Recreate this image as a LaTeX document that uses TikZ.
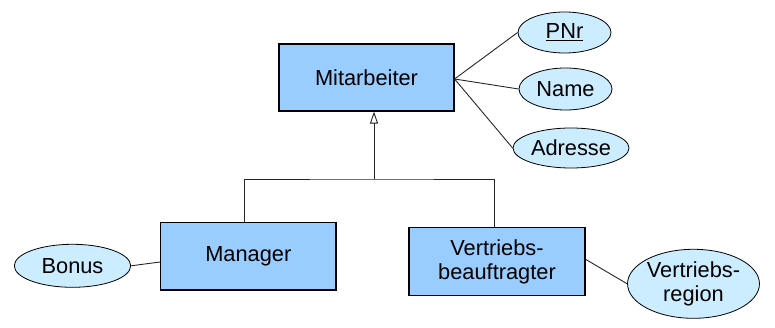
\documentclass[tikz,border=0pt]{standalone}
\usepackage{fontspec}
\setmainfont{Liberation Sans}
\usetikzlibrary{shapes.geometric,arrows.meta}
\definecolor{boxblue}{HTML}{99CCFF}
\definecolor{ellblue}{HTML}{CCECFF}
\begin{document}
\begin{tikzpicture}[x=1pt,y=-1pt,
  every node/.style={font=\fontsize{21.8}{24.5}\selectfont, text=black},
  entity/.style={draw=black, line width=1.1pt, fill=boxblue, inner sep=0pt, align=center},
  attr/.style={ellipse, draw=black, line width=0.8pt, fill=ellblue, inner sep=0pt, align=center},
  conn/.style={draw=black!85, line width=0.9pt}]
\useasboundingbox (0,0) rectangle (775,328);
% entities
\node[entity, minimum width=175pt, minimum height=67pt] (M) at (366.5,77.5) {Mitarbeiter};
\node[entity, minimum width=175.3pt, minimum height=67.3pt] (Man) at (248.3,256.3) {Manager};
\node[entity, minimum width=176pt, minimum height=67.7pt] (VB) at (497,261.8) {Vertriebs-\\beauftragter};
% attributes
\node[attr, minimum width=93pt, minimum height=41pt] (PNr) at (564.5,32.5) {\underline{PNr}};
\node[attr, minimum width=93pt, minimum height=42pt] (Name) at (565.5,89) {Name};
\node[attr, minimum width=116pt, minimum height=40pt] (Adr) at (571,148) {Adresse};
\node[attr, minimum width=116.4pt, minimum height=43pt] (Bonus) at (72.5,265.8) {Bonus};
\node[attr, minimum width=131.6pt, minimum height=69pt] (VR) at (693.5,283.8) {Vertriebs-\\region};
% attribute connectors
\coordinate (Mr) at ([yshift=-1.5pt]M.east);
\draw[conn] (Mr) -- (PNr.west);
\draw[conn] (Mr) -- (Name.west);
\draw[conn] (Mr) -- (Adr.west);
\draw[conn] (Bonus.east) -- ([yshift=-5.7pt]Man.west);
\draw[conn] ([yshift=2.5pt]VB.east) -- (VR.west);
% generalisation
\coordinate (j) at (374,179);
\draw[conn] ([xshift=-4pt]Man.north) |- (j) -| ([xshift=-3pt]VB.north);
\draw[conn, -{Triangle[open, width=8pt, length=12pt, line width=0.9pt]}] (j) -- (j |- M.south);
\end{tikzpicture}
\end{document}
